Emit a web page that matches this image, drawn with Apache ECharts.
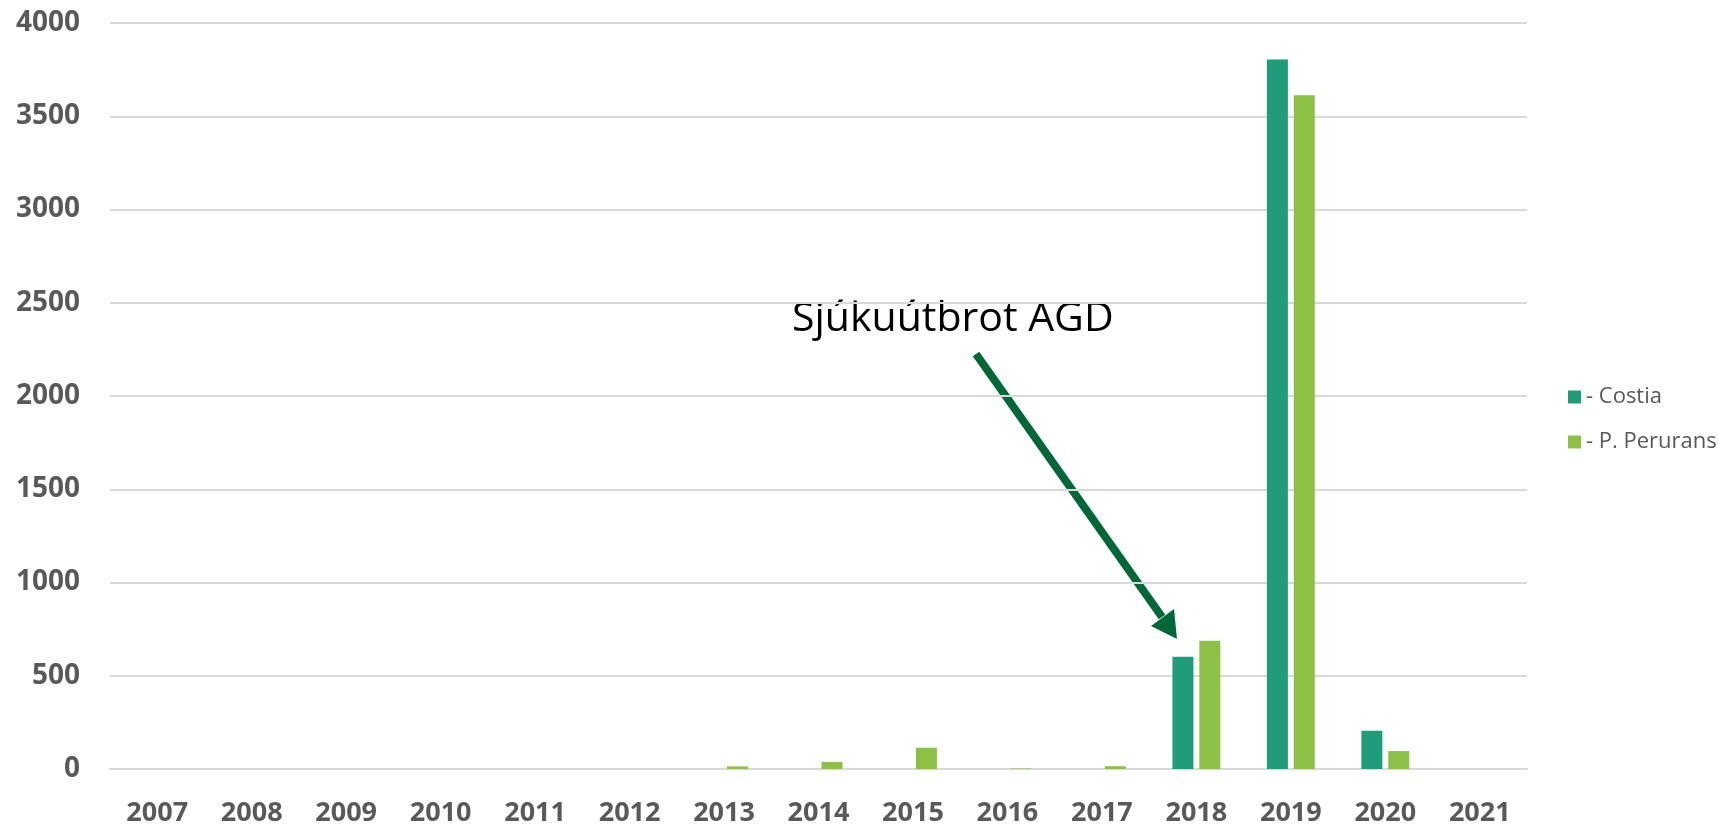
<!DOCTYPE html>
<html>
<head>
<meta charset="utf-8">
<script src="https://cdn.jsdelivr.net/npm/echarts@6/dist/echarts.min.js"></script>
<style>
  html, body { margin: 0; padding: 0; background: #fff; }
  #chart { width: 1718px; height: 827px; }
</style>
</head>
<body>
<div id="chart"></div>
<script>
var years = ['2007', '2008', '2009', '2010', '2011', '2012', '2013', '2014',
             '2015', '2016', '2017', '2018', '2019', '2020', '2021'];
var costia = [0, 0, 0, 0, 0, 0, 0, 0, 0, 0, 0, 602, 3804, 205, 0];
var perurans = [0, 0, 0, 0, 0, 0, 14, 38, 114, 3, 15, 688, 3612, 96, 0];
var yTicks = [0, 500, 1000, 1500, 2000, 2500, 3000, 3500, 4000];

var labelFont = '"Open Sans", "DejaVu Sans", sans-serif';
var arrowColor = '#006837';

var chart = echarts.init(document.getElementById('chart'));

var option = {
    animation: false,
    backgroundColor: '#ffffff',
    color: ['#1f9c7a', '#8cc146'],
    grid: {
        left: 110,
        right: 191,
        top: 23,
        bottom: 57
    },
    legend: {
        orient: 'vertical',
        left: 1563,
        top: 381,
        itemWidth: 13,
        itemHeight: 13,
        itemGap: 23,
        icon: 'rect',
        formatter: function (name) { return '- ' + name; },
        textStyle: {
            fontFamily: labelFont,
            fontSize: 22,
            lineHeight: 22,
            color: '#595959'
        },
        data: ['Costia', 'P. Perurans']
    },
    xAxis: {
        type: 'category',
        data: years,
        axisTick: { show: false },
        axisLine: { show: true, lineStyle: { color: '#d9d9d9', width: 2 } },
        axisLabel: {
            margin: 31,
            fontFamily: labelFont,
            fontSize: 27,
            fontWeight: 'bold',
            color: '#595959'
        }
    },
    yAxis: {
        type: 'value',
        min: yTicks[0],
        max: yTicks[yTicks.length - 1],
        interval: 500,
        axisLine: { show: false },
        axisTick: { show: false },
        splitLine: { lineStyle: { color: '#d9d9d9', width: 2 } },
        axisLabel: {
            margin: 30,
            formatter: function (v) { return String(v); },
            fontFamily: labelFont,
            fontSize: 28,
            fontWeight: 'bold',
            color: '#595959'
        }
    },
    series: [
        {
            name: 'Costia',
            type: 'bar',
            data: costia,
            barWidth: 21,
            barGap: '28%'
        },
        {
            name: 'P. Perurans',
            type: 'bar',
            data: perurans,
            barWidth: 21,
            barGap: '28%'
        }
    ],
    graphic: [
        {
            type: 'text',
            left: 792,
            top: 299,
            style: {
                text: 'Sjúkuútbrot AGD',
                font: '41px ' + labelFont,
                fill: '#000000'
            }
        },
        {
            type: 'line',
            shape: { x1: 976, y1: 354, x2: 1162, y2: 617 },
            style: { stroke: arrowColor, lineWidth: 8 }
        },
        {
            type: 'polygon',
            shape: { points: [[1151, 626], [1174, 609], [1177, 639]] },
            style: { fill: arrowColor }
        }
    ]
};

chart.setOption(option);
</script>
</body>
</html>
